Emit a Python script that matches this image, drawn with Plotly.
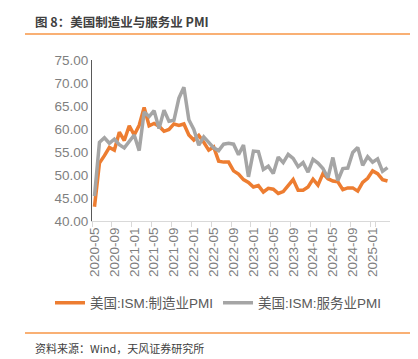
import plotly.graph_objects as go

months = []
y, m = 2020, 5
for _ in range(60):
    months.append(f"{y}-{m:02d}")
    m += 1
    if m > 12:
        m = 1
        y += 1

manufacturing = [
    43.1, 52.6, 54.2, 56.0, 55.4, 59.3, 57.5, 60.7,
    58.7, 60.8, 64.7, 60.7, 61.2, 60.6, 59.5, 59.9, 61.1, 60.8, 61.1, 58.7,
    57.6, 58.6, 57.1, 55.4, 56.1, 53.0, 52.8, 52.8, 50.9, 50.2, 49.0, 48.4,
    47.4, 47.7, 46.3, 47.1, 46.9, 46.0, 46.4, 47.6, 49.0, 46.7, 46.7, 47.4,
    49.1, 47.8, 50.3, 49.2, 48.7, 48.5, 46.8, 47.2, 47.2, 46.5, 48.4, 49.3,
    50.9, 50.3, 49.0, 48.7,
]
services = [
    45.4, 57.1, 58.1, 56.9, 57.8, 56.6, 55.9, 57.2,
    58.7, 55.3, 63.7, 62.7, 64.0, 60.1, 64.1, 61.7, 61.9, 66.7, 69.1, 62.0,
    59.9, 56.5, 58.3, 57.1, 55.9, 55.3, 56.7, 56.9, 56.7, 54.4, 56.5, 49.6,
    55.2, 55.1, 51.2, 51.9, 50.3, 53.9, 52.7, 54.5, 53.6, 51.8, 52.7, 50.6,
    53.4, 52.6, 51.4, 49.4, 53.8, 48.8, 51.4, 51.5, 54.9, 56.0, 52.1, 54.0,
    52.8, 53.5, 50.8, 51.6,
]
series_names = ["美国:ISM:制造业PMI", "美国:ISM:服务业PMI"]
title_text = "图 8：美国制造业与服务业 PMI"
source_text = "资料来源：Wind，天风证券研究所"

FONT = "Liberation Sans, Arial, Noto Sans CJK SC, sans-serif"
CJK = "Noto Sans CJK SC, Liberation Sans, sans-serif"

fig = go.Figure()
fig.add_trace(go.Scatter(x=months, y=manufacturing, mode="lines", name=series_names[0],
                         line=dict(color="#ED7D31", width=3.5)))
fig.add_trace(go.Scatter(x=months, y=services, mode="lines", name=series_names[1],
                         line=dict(color="#A5A5A5", width=3.5)))

W, H = 418, 359
L, R, T, B = 84, 382, 52, 213
pw, ph = R - L, B - T
def px(x): return (x - L) / pw
def py(y): return (B - y) / ph

fig.update_layout(
    width=W, height=H,
    margin=dict(l=L, r=W - R, t=T, b=H - B),
    paper_bgcolor="white", plot_bgcolor="white",
    font=dict(family=FONT, color="#7F7F7F", size=13.5),
    showlegend=True,
    legend=dict(orientation="h", x=px(42), xanchor="left", y=py(295), yanchor="middle",
                font=dict(family=FONT, size=13.5, color="#595959"),
                itemwidth=30, tracegroupgap=0, bgcolor="rgba(0,0,0,0)"),
    xaxis=dict(type="category", range=[-0.5, 59.5], tickmode="array",
               tickvals=months[::4], ticktext=months[::4], tickangle=-90,
               tickson="boundaries", ticks="outside", ticklen=5, tickcolor="#D9D9D9",
               showline=True, linecolor="#D9D9D9", linewidth=1, showgrid=False,
               zeroline=False, tickfont=dict(size=13.5, color="#7F7F7F")),
    yaxis=dict(range=[40, 75], dtick=5, tickformat=".2f", showgrid=False, zeroline=False,
               showline=True, linecolor="#595959", linewidth=1, ticks="",
               tickfont=dict(size=13.5, color="#7F7F7F")),
)

fig.add_annotation(text=f"<b>{title_text}</b>", xref="paper", yref="paper",
                   x=px(25), y=py(13), xanchor="left", yanchor="middle", showarrow=False,
                   font=dict(family=CJK, size=12.5, color="#404040"))
fig.add_annotation(text=source_text, xref="paper", yref="paper",
                   x=px(25), y=py(340), xanchor="left", yanchor="middle", showarrow=False,
                   font=dict(family=CJK, size=11, color="#404040"))
for yy in (26, 325):
    fig.add_shape(type="line", xref="paper", yref="paper", x0=px(17), x1=px(410),
                  y0=py(yy), y1=py(yy), line=dict(color="#F79646", width=1.5))

fig.write_html("out.html")
